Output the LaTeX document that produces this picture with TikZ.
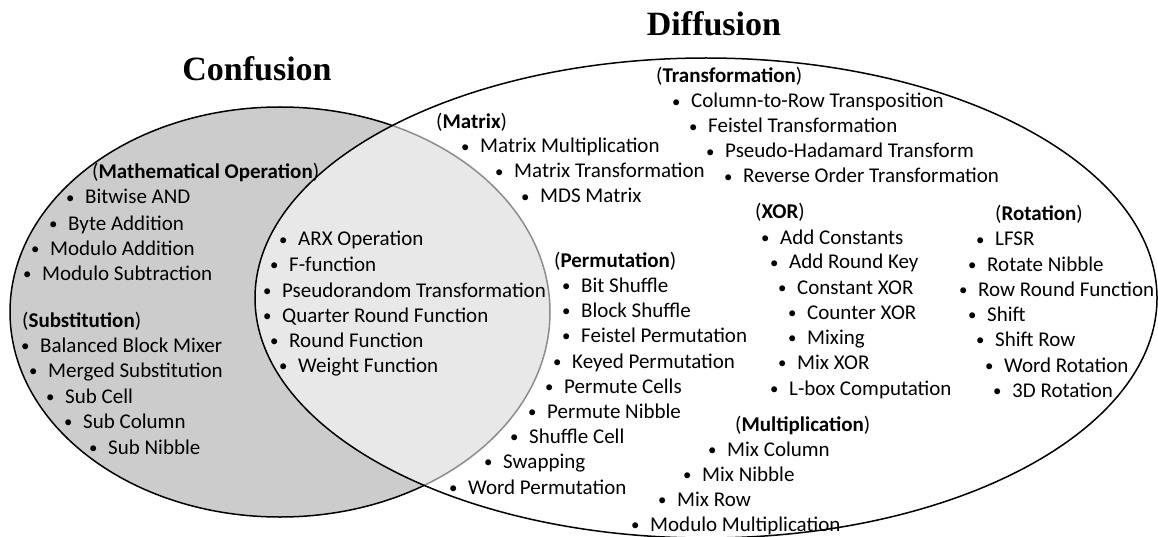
\documentclass[tikz,border=0pt]{standalone}
\usepackage{fontspec}
\setmainfont{Carlito}
\newfontfamily\serifbold{Liberation Serif}
\usetikzlibrary{shapes.geometric}
\tikzstyle{venn} = [ellipse, draw=black, line width=1.5pt, inner sep=0pt]
\tikzstyle{listitem} = [anchor=base west, inner sep=0pt, font=\fontsize{21}{24}\selectfont]
\tikzstyle{grouplabel} = [listitem]
\tikzstyle{bigtitle} = [anchor=base, inner sep=0pt, font=\serifbold\bfseries\fontsize{34}{40}\selectfont]
\definecolor{confgray}{RGB}{204,204,204}
\newcommand{\itm}[1]{\makebox[0pt][c]{\raisebox{0.5pt}{\scalebox{0.8}{•}}}\hspace{15pt}#1}
\newcommand{\grp}[1]{(\textbf{#1})}

\begin{document}
\begin{tikzpicture}[x=1pt, y=-1pt]
\useasboundingbox (0,0) rectangle (1158,537);
% the two sets
\node[venn, fill=confgray, minimum width=540pt, minimum height=410pt] (confusion) at (280,312) {};
\node[venn, fill=white, fill opacity=0.55, minimum width=902pt, minimum height=480pt] (diffusion) at (706,298) {};

\node[bigtitle] (conftitle) at (257,81) {Confusion};
\node[bigtitle] (difftitle) at (714,36) {Diffusion};

% confusion only
\node[grouplabel] (mathop) at (92,179) {\grp{Mathematical Operation}};
\node[listitem] (bitand) at (70,204) {\itm{Bitwise AND}};
\node[listitem] (byteadd) at (53,230) {\itm{Byte Addition}};
\node[listitem] (modadd) at (35,255) {\itm{Modulo Addition}};
\node[listitem] (modsub) at (27,280) {\itm{Modulo Subtraction}};

\node[grouplabel] (subst) at (22,327) {\grp{Substitution}};
\node[listitem] (bbm) at (25,352) {\itm{Balanced Block Mixer}};
\node[listitem] (merged) at (33,377) {\itm{Merged Substitution}};
\node[listitem] (subcell) at (50,403) {\itm{Sub Cell}};
\node[listitem] (subcol) at (68,428) {\itm{Sub Column}};
\node[listitem] (subnib) at (93,454) {\itm{Sub Nibble}};

% both
\node[listitem] (arx) at (283,246) {\itm{ARX Operation}};
\node[listitem] (ffunc) at (274,271) {\itm{F-function}};
\node[listitem] (prt) at (267,297) {\itm{Pseudorandom Transformation}};
\node[listitem] (qrf) at (267,322) {\itm{Quarter Round Function}};
\node[listitem] (roundf) at (274,347) {\itm{Round Function}};
\node[listitem] (weightf) at (283,372) {\itm{Weight Function}};

% diffusion only
\node[grouplabel] (matrix) at (436,129) {\grp{Matrix}};
\node[listitem] (matmul) at (465,153) {\itm{Matrix Multiplication}};
\node[listitem] (mattrans) at (499,178) {\itm{Matrix Transformation}};
\node[listitem] (mds) at (525,203) {\itm{MDS Matrix}};

\node[grouplabel] (transf) at (656,83) {\grp{Transformation}};
\node[listitem] (c2r) at (676,108) {\itm{Column-to-Row Transposition}};
\node[listitem] (feisteltr) at (693,133) {\itm{Feistel Transformation}};
\node[listitem] (pht) at (710,158) {\itm{Pseudo-Hadamard Transform}};
\node[listitem] (revorder) at (728,183) {\itm{Reverse Order Transformation}};

\node[grouplabel] (xor) at (755,219) {\grp{XOR}};
\node[listitem] (addconst) at (765,244) {\itm{Add Constants}};
\node[listitem] (addrk) at (774,269) {\itm{Add Round Key}};
\node[listitem] (constxor) at (782,294) {\itm{Constant XOR}};
\node[listitem] (ctrxor) at (792,319) {\itm{Counter XOR}};
\node[listitem] (mixing) at (792,344) {\itm{Mixing}};
\node[listitem] (mixxor) at (782,369) {\itm{Mix XOR}};
\node[listitem] (lbox) at (774,395) {\itm{L-box Computation}};

\node[grouplabel] (rotation) at (995,221) {\grp{Rotation}};
\node[listitem] (lfsr) at (980,246) {\itm{LFSR}};
\node[listitem] (rotnib) at (972,271) {\itm{Rotate Nibble}};
\node[listitem] (rowrf) at (963,296) {\itm{Row Round Function}};
\node[listitem] (shift) at (972,321) {\itm{Shift}};
\node[listitem] (shiftrow) at (980,346) {\itm{Shift Row}};
\node[listitem] (wordrot) at (989,372) {\itm{Word Rotation}};
\node[listitem] (rot3d) at (997,397) {\itm{3D Rotation}};

\node[grouplabel] (perm) at (554,267) {\grp{Permutation}};
\node[listitem] (bitsh) at (566,292) {\itm{Bit Shuffle}};
\node[listitem] (blocksh) at (566,317) {\itm{Block Shuffle}};
\node[listitem] (feistelp) at (566,342) {\itm{Feistel Permutation}};
\node[listitem] (keyedp) at (557,368) {\itm{Keyed Permutation}};
\node[listitem] (permcells) at (549,393) {\itm{Permute Cells}};
\node[listitem] (permnib) at (532,418) {\itm{Permute Nibble}};
\node[listitem] (shufcell) at (514,443) {\itm{Shuffle Cell}};
\node[listitem] (swap) at (488,468) {\itm{Swapping}};
\node[listitem] (wordperm) at (453,494) {\itm{Word Permutation}};

\node[grouplabel] (mult) at (735,431) {\grp{Multiplication}};
\node[listitem] (mixcol) at (712,456) {\itm{Mix Column}};
\node[listitem] (mixnib) at (687,481) {\itm{Mix Nibble}};
\node[listitem] (mixrow) at (662,506) {\itm{Mix Row}};
\node[listitem] (modmul) at (635,531) {\itm{Modulo Multiplication}};
\end{tikzpicture}
\end{document}
